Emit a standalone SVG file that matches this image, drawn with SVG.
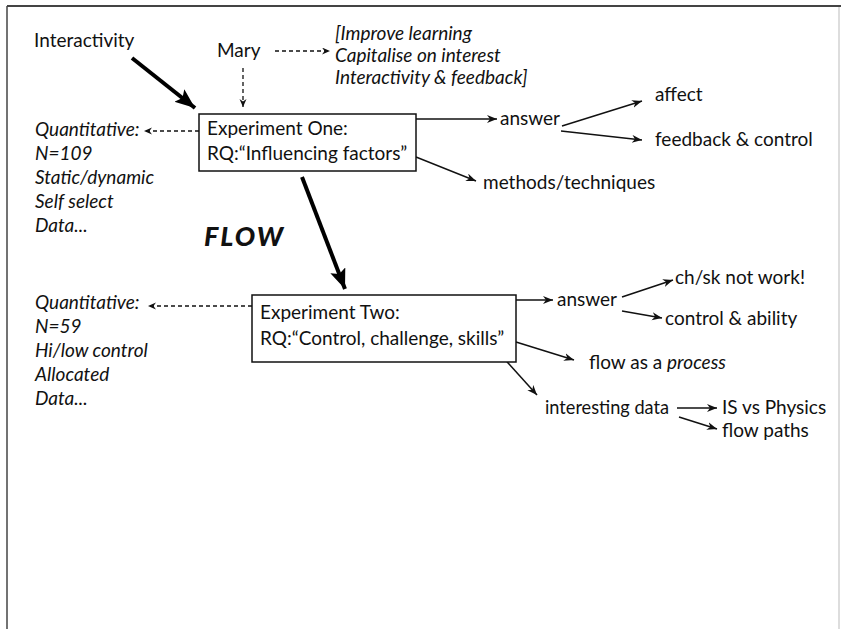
<svg xmlns="http://www.w3.org/2000/svg" width="841" height="629" viewBox="0 0 841 629">
<defs>
<style>
text{font-family:Lato,"Open Sans","Liberation Sans",sans-serif;font-size:19px;fill:#111}
.it{font-style:italic}
.box{fill:#fff;stroke:#111;stroke-width:1.5}
.thin{stroke:#111;stroke-width:1.5;fill:none}
.dash{stroke:#111;stroke-width:1.3;fill:none;stroke-dasharray:4 3}
.thick{stroke:#000;stroke-width:4;fill:none}
</style>
<marker id="ah" markerUnits="userSpaceOnUse" markerWidth="12" markerHeight="10" refX="10" refY="4" orient="auto">
<path d="M0,0 L10,4 L0,8 L3,4 Z" fill="#111"/>
</marker>
<marker id="ahd" markerUnits="userSpaceOnUse" markerWidth="10" markerHeight="8" refX="8" refY="3.5" orient="auto">
<path d="M0,0 L8,3.5 L0,7 L2.5,3.5 Z" fill="#111"/>
</marker>
<marker id="ahb" markerUnits="userSpaceOnUse" markerWidth="24" markerHeight="18" refX="20" refY="8" orient="auto">
<path d="M0,0 L20,8 L0,16 L4,8 Z" fill="#000"/>
</marker>
</defs>
<rect width="841" height="629" fill="#fff"/>
<g id="frame">
<line x1="7" y1="6" x2="841" y2="6" stroke="#444" stroke-width="2"/>
<line x1="7" y1="6" x2="7" y2="629" stroke="#444" stroke-width="1.5"/>
<line x1="839" y1="7" x2="839" y2="629" stroke="#ddd" stroke-width="2"/>
</g>
<g id="connectors">
<line class="thick" x1="132" y1="58" x2="195" y2="108" marker-end="url(#ahb)"/>
<line class="thick" x1="302" y1="177" x2="345" y2="289" marker-end="url(#ahb)"/>
<line class="dash" x1="275" y1="51" x2="330" y2="51" marker-end="url(#ahd)"/>
<line class="dash" x1="243" y1="68" x2="243" y2="107" marker-end="url(#ahd)"/>
<line class="dash" x1="199" y1="131" x2="144" y2="131" marker-end="url(#ahd)"/>
<line class="dash" x1="252" y1="306" x2="148" y2="306" marker-end="url(#ahd)"/>
<line class="thin" x1="416" y1="119" x2="497" y2="119" marker-end="url(#ah)"/>
<line class="thin" x1="562" y1="126" x2="642" y2="101" marker-end="url(#ah)"/>
<line class="thin" x1="561" y1="131" x2="642" y2="140" marker-end="url(#ah)"/>
<line class="thin" x1="416" y1="157" x2="476" y2="181" marker-end="url(#ah)"/>
<line class="thin" x1="516" y1="300" x2="553" y2="300" marker-end="url(#ah)"/>
<line class="thin" x1="622" y1="297" x2="673" y2="280" marker-end="url(#ah)"/>
<line class="thin" x1="622" y1="311" x2="662" y2="318" marker-end="url(#ah)"/>
<line class="thin" x1="516" y1="342" x2="574" y2="360" marker-end="url(#ah)"/>
<line class="thin" x1="500" y1="354" x2="537" y2="395" marker-end="url(#ah)"/>
<line class="thin" x1="677" y1="408" x2="717" y2="408" marker-end="url(#ah)"/>
<line class="thin" x1="679" y1="417" x2="717" y2="429" marker-end="url(#ah)"/>
</g>
<g id="interactivity"><text x="34" y="47">Interactivity</text></g>
<g id="mary"><text x="217" y="57">Mary</text></g>
<g id="aims">
<text class="it" x="335" y="40">[Improve learning</text>
<text class="it" x="335" y="62">Capitalise on interest</text>
<text class="it" x="335" y="84">Interactivity &amp; feedback]</text>
</g>
<g id="exp1">
<rect class="box" x="199" y="114" width="217" height="57"/>
<text x="207" y="135">Experiment One:</text>
<text x="207" y="160">RQ:“Influencing factors”</text>
</g>
<g id="quant1">
<text class="it" x="35" y="136">Quantitative:</text>
<text class="it" x="35" y="160">N=109</text>
<text class="it" x="35" y="184">Static/dynamic</text>
<text class="it" x="35" y="208">Self select</text>
<text class="it" x="35" y="232">Data...</text>
</g>
<g id="answer1"><text x="500" y="125">answer</text></g>
<g id="affect"><text x="655" y="101">affect</text></g>
<g id="feedback"><text x="655" y="146">feedback &amp; control</text></g>
<g id="methods"><text x="483" y="189">methods/techniques</text></g>
<g id="flow"><text x="204" y="246" style="font-weight:900;font-style:italic;font-size:27px;letter-spacing:2px">FLOW</text></g>
<g id="exp2">
<rect class="box" x="252" y="295" width="264" height="67"/>
<text x="260" y="319">Experiment Two:</text>
<text x="260" y="345">RQ:“Control, challenge, skills”</text>
</g>
<g id="quant2">
<text class="it" x="35" y="309">Quantitative:</text>
<text class="it" x="35" y="333">N=59</text>
<text class="it" x="35" y="357">Hi/low control</text>
<text class="it" x="35" y="381">Allocated</text>
<text class="it" x="35" y="405">Data...</text>
</g>
<g id="answer2"><text x="557" y="306">answer</text></g>
<g id="chsk"><text x="675" y="284">ch/sk not work!</text></g>
<g id="control"><text x="665" y="325">control &amp; ability</text></g>
<g id="process"><text x="589" y="369">flow as a <tspan class="it">process</tspan></text></g>
<g id="interesting"><text x="545" y="414" textLength="124" lengthAdjust="spacingAndGlyphs">interesting data</text></g>
<g id="isphys"><text x="722" y="414">IS vs Physics</text></g>
<g id="paths"><text x="722" y="437">flow paths</text></g>
</svg>
